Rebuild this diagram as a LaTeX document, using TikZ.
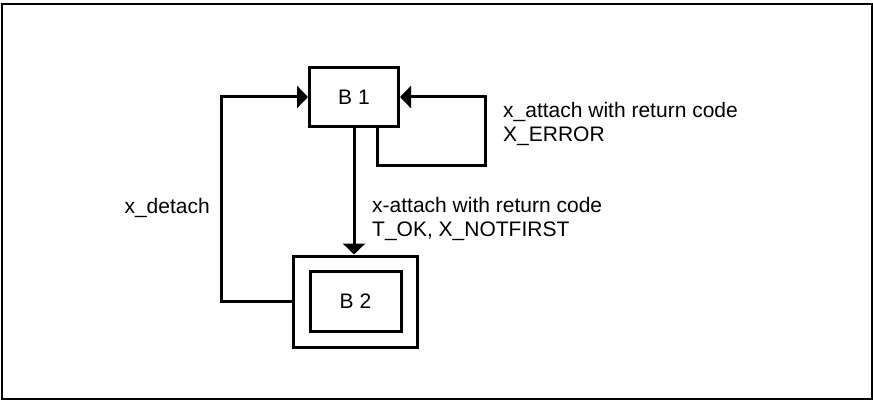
\documentclass[tikz,border=0pt]{standalone}
\usepackage{fontspec}
\setmainfont{Liberation Sans}
\usetikzlibrary{arrows.meta}

\begin{document}
\begin{tikzpicture}[x=1pt,y=-1pt,
  box/.style={draw,line width=3pt,inner sep=0pt,font=\fontsize{21}{24}\selectfont},
  link/.style={line width=3pt},
  arr/.style={link,-{Triangle[length=11pt,width=22pt]}},
  lbl/.style={inner sep=0pt,align=left,font=\fontsize{21}{24}\selectfont}]
  \useasboundingbox (0,0) rectangle (873,401);
  % outer frame
  \draw[line width=1.5pt] (2,4) rectangle (872,399);

  % states
  \node[box,minimum width=89pt,minimum height=59pt] (B1) at (354,97) {B 1};
  \node[box,minimum width=124pt,minimum height=91pt] (B2o) at (355.5,301.5) {};
  \node[box,minimum width=91pt,minimum height=60pt] (B2) at (355.5,301) {B 2};

  % transitions
  \draw[arr] (B1.south) -- (B1.south |- B2o.north);
  \coordinate (r1) at (485,166);
  \draw[arr] ([xshift=23pt]B1.south) |- (r1) |- (B1.east);
  \coordinate (l1) at (221,200);
  \draw[arr] (B2o.west) -| (l1) |- (B1.west);

  % labels
  \node[lbl,anchor=base west] (t1) at (503,118) {x\_attach with return code};
  \node[lbl,anchor=base west] (t2) at (503,142) {X\_ERROR};
  \node[lbl,anchor=base west] (t3) at (372,212) {x-attach with return code};
  \node[lbl,anchor=base west] (t4) at (372,236) {T\_OK, X\_NOTFIRST};
  \node[lbl,anchor=base east] (t5) at (210,213) {x\_detach};
\end{tikzpicture}
\end{document}
